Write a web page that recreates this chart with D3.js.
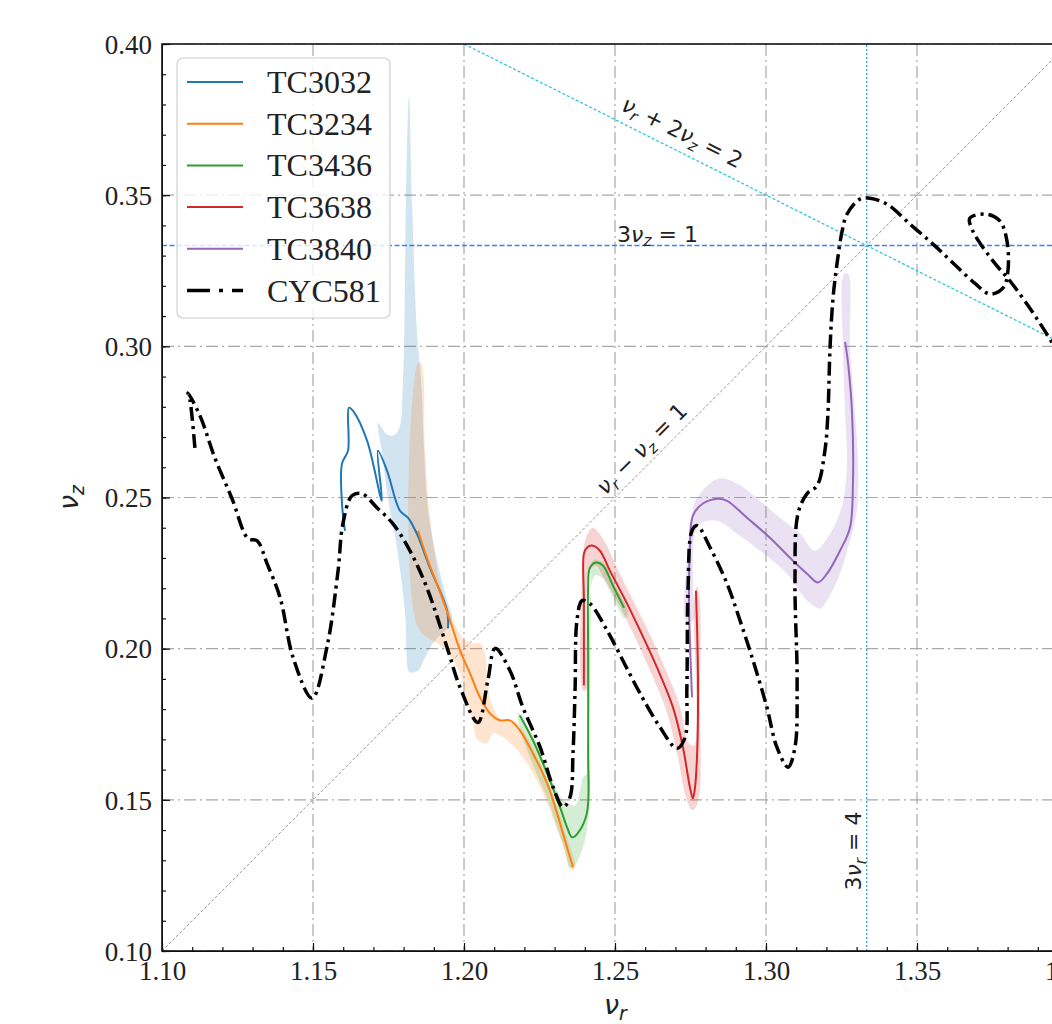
<!DOCTYPE html>
<html lang="en">
<head>
<meta charset="UTF-8">
<title>nu_r vs nu_z</title>
<script src="https://cdn.jsdelivr.net/npm/d3@7"></script>
<style>
    body { margin: 0; background: white; }
    .tick text { font-family: "Liberation Serif", serif; font-size: 27px; fill: #222; }
    .axis path, .axis line { stroke: #111; }
    .math { font-family: "DejaVu Sans", sans-serif; fill: #222; }
</style>
</head>
<body>
<script>
const width = 1052, height = 1024;
const margin = {left: 162, top: 44, right: 1068, bottom: 951};

// ticks
const xTicks = [1.10, 1.15, 1.20, 1.25, 1.30, 1.35, 1.40];
const yTicks = [0.10, 0.15, 0.20, 0.25, 0.30, 0.35, 0.40];
const xMinor = d3.range(110, 141).map(d => d / 100);
const yMinor = d3.range(10, 41).map(d => d / 100);

// series (nu_r, nu_z)
const tc3032 = [[1.1606,0.2390],[1.1596,0.2480],[1.1596,0.2612],[1.1616,0.2655],[1.1619,0.2797],[1.1632,0.2787],
    [1.1679,0.2688],[1.1728,0.2489],[1.1715,0.2655],[1.1745,0.2589],[1.1788,0.2456],[1.1815,0.2433],
    [1.1844,0.2380],[1.1887,0.2268],[1.1944,0.2126],[1.1947,0.2067]];
const tc3234 = [[1.1848,0.2390],[1.1877,0.2301],[1.1921,0.2186],[1.1954,0.2093],[1.1987,0.1994],[1.2020,0.1918],
    [1.2053,0.1839],[1.2086,0.1786],[1.2119,0.1763],[1.2152,0.1763],[1.2185,0.1730],[1.2228,0.1654],
    [1.2275,0.1555],[1.2308,0.1456],[1.2334,0.1367],[1.2361,0.1277]];
const tc3436 = [[1.2185,0.1779],[1.2228,0.1697],[1.2275,0.1588],[1.2318,0.1476],[1.2341,0.1410],[1.2358,0.1376],
    [1.2377,0.1390],[1.2407,0.1456],[1.2411,0.1654],[1.2411,0.1984],[1.2411,0.2202],[1.2417,0.2268],
    [1.2437,0.2285],[1.2460,0.2275],[1.2493,0.2209],[1.2530,0.2135]];
const tc3638 = [[1.2397,0.1878],[1.2397,0.2159],[1.2397,0.2314],[1.2407,0.2334],[1.2424,0.2341],[1.2450,0.2324],
    [1.2483,0.2258],[1.2540,0.2149],[1.2583,0.2060],[1.2639,0.1938],[1.2692,0.1806],[1.2725,0.1674],
    [1.2748,0.1542],[1.2758,0.1505],[1.2765,0.1542],[1.2772,0.1654],[1.2775,0.1872],[1.2772,0.2060],[1.2768,0.2192]];
const tc3840 = [[1.2755,0.1839],[1.2748,0.2027],[1.2745,0.2159],[1.2748,0.2334],[1.2758,0.2440],[1.2791,0.2480],
    [1.2841,0.2496],[1.2871,0.2489],[1.2937,0.2433],[1.3013,0.2367],[1.3089,0.2291],[1.3136,0.2248],
    [1.3172,0.2219],[1.3202,0.2248],[1.3245,0.2324],[1.3278,0.2400],[1.3288,0.2555],[1.3285,0.2777],
    [1.3272,0.2942],[1.3262,0.3015]];
const cyc581 = [[1.1109,0.2664],[1.1093,0.2820],[1.1086,0.2846],[1.1126,0.2770],[1.1175,0.2631],[1.1232,0.2496],
    [1.1285,0.2364],[1.1315,0.2357],[1.1348,0.2281],[1.1391,0.2169],[1.1434,0.1971],[1.1497,0.1836],
    [1.1546,0.2004],[1.1583,0.2258],[1.1599,0.2413],[1.1629,0.2506],[1.1662,0.2513],[1.1712,0.2466],
    [1.1765,0.2413],[1.1821,0.2324],[1.1877,0.2202],[1.1944,0.2004],[1.1987,0.1872],[1.2046,0.1756],
    [1.2079,0.1895],[1.2103,0.2001],[1.2152,0.1928],[1.2195,0.1806],[1.2252,0.1674],[1.2295,0.1542],
    [1.2328,0.1476],[1.2351,0.1509],[1.2361,0.1654],[1.2368,0.1872],[1.2374,0.2093],[1.2391,0.2159],
    [1.2417,0.2149],[1.2474,0.2060],[1.2526,0.1961],[1.2583,0.1852],[1.2649,0.1740],[1.2705,0.1670],
    [1.2732,0.1707],[1.2738,0.1872],[1.2742,0.2202],[1.2755,0.2390],[1.2772,0.2407],[1.2815,0.2334],
    [1.2871,0.2215],[1.2914,0.2093],[1.2957,0.1961],[1.3003,0.1806],[1.3036,0.1674],[1.3073,0.1608],
    [1.3096,0.1674],[1.3103,0.1895],[1.3096,0.2225],[1.3106,0.2447],[1.3136,0.2513],[1.3169,0.2539],
    [1.3195,0.2655],[1.3205,0.2777],[1.3212,0.2995],[1.3222,0.3160],[1.3235,0.3272],[1.3252,0.3381],
    [1.3268,0.3437],[1.3311,0.3487],[1.3344,0.3490],[1.3401,0.3470],[1.3477,0.3404],[1.3553,0.3338],
    [1.3620,0.3275],[1.3690,0.3210],[1.3742,0.3173],[1.3785,0.3193],[1.3801,0.3249],
    [1.3798,0.3348],[1.3775,0.3414],[1.3732,0.3437],[1.3675,0.3424],[1.3685,0.3381],[1.3752,0.3282],
    [1.3808,0.3216],[1.3864,0.3140],[1.3917,0.3061],[1.3974,0.2968]];

// uncertainty bands, as outlines (nu_r, nu_z)
const band3032 = [[1.1715,0.2747],[1.1742,0.2711],[1.1765,0.2704],[1.1785,0.2727],[1.1798,0.2886],[1.1808,0.3480],
    [1.1818,0.3827],[1.1828,0.3480],[1.1844,0.3051],[1.1858,0.2886],[1.1868,0.2655],[1.1881,0.2456],
    [1.1911,0.2291],[1.1944,0.2159],[1.1960,0.2103],[1.1944,0.2067],[1.1904,0.2027],[1.1871,0.1971],
    [1.1848,0.1928],[1.1821,0.1921],[1.1815,0.1928],[1.1805,0.2116],[1.1778,0.2334],[1.1748,0.2499],[1.1728,0.2655]];
const band3234 = [[1.1848,0.2945],[1.1858,0.2945],[1.1871,0.2655],[1.1887,0.2440],[1.1921,0.2215],[1.1960,0.2103],
    [1.2003,0.2027],[1.2030,0.2017],[1.2053,0.2017],[1.2070,0.1984],[1.2079,0.1872],[1.2096,0.1806],
    [1.2126,0.1763],[1.2162,0.1763],[1.2209,0.1707],[1.2285,0.1542],[1.2341,0.1376],[1.2368,0.1277],
    [1.2358,0.1267],[1.2318,0.1376],[1.2252,0.1542],[1.2185,0.1654],[1.2129,0.1707],[1.2096,0.1720],
    [1.2076,0.1687],[1.2046,0.1697],[1.2030,0.1753],[1.2010,0.1829],[1.1987,0.1918],[1.1964,0.1961],
    [1.1921,0.2011],[1.1848,0.2070]];
const band3436 = [[1.2179,0.1789],[1.2235,0.1697],[1.2285,0.1581],[1.2328,0.1499],[1.2368,0.1482],[1.2384,0.1532],
    [1.2394,0.1575],[1.2407,0.1588],[1.2417,0.1829],[1.2421,0.2159],[1.2427,0.2291],[1.2460,0.2285],
    [1.2500,0.2209],[1.2543,0.2120],[1.2533,0.2100],[1.2490,0.2176],[1.2457,0.2235],[1.2434,0.2242],
    [1.2417,0.2159],[1.2417,0.1532],[1.2407,0.1400],[1.2391,0.1334],[1.2368,0.1284],[1.2351,0.1274],
    [1.2334,0.1334],[1.2311,0.1400],[1.2278,0.1499],[1.2235,0.1598],[1.2192,0.1713],[1.2179,0.1763]];
const band3638 = [[1.2394,0.1862],[1.2394,0.2291],[1.2404,0.2367],[1.2427,0.2400],[1.2464,0.2357],[1.2503,0.2275],
    [1.2560,0.2159],[1.2606,0.2067],[1.2659,0.1951],[1.2712,0.1819],[1.2745,0.1687],[1.2762,0.1680],
    [1.2762,0.2159],[1.2772,0.2205],[1.2781,0.2159],[1.2781,0.1829],[1.2781,0.1532],[1.2768,0.1476],
    [1.2755,0.1466],[1.2735,0.1509],[1.2705,0.1657],[1.2672,0.1789],[1.2619,0.1921],[1.2563,0.2044],
    [1.2520,0.2133],[1.2464,0.2232],[1.2437,0.2275],[1.2417,0.2258],[1.2404,0.2159],[1.2404,0.1862]];
const band3840 = [[1.2755,0.2447],[1.2772,0.2499],[1.2841,0.2562],[1.2904,0.2546],[1.2980,0.2489],[1.3046,0.2433],
    [1.3113,0.2380],[1.3162,0.2324],[1.3212,0.2380],[1.3252,0.2473],[1.3268,0.2612],[1.3262,0.2777],
    [1.3255,0.2995],[1.3258,0.3239],[1.3272,0.3239],[1.3278,0.2995],[1.3295,0.2777],[1.3305,0.2612],
    [1.3301,0.2456],[1.3278,0.2357],[1.3245,0.2248],[1.3202,0.2159],[1.3179,0.2133],[1.3136,0.2159],
    [1.3070,0.2248],[1.2980,0.2324],[1.2904,0.2380],[1.2838,0.2423],[1.2781,0.2413],[1.2762,0.2367],
    [1.2758,0.2225],[1.2758,0.2093],[1.2735,0.2093],[1.2738,0.2291]];

const seriesNames = ["TC3032", "TC3234", "TC3436", "TC3638", "TC3840", "CYC581"];
const seriesColors = ["#1f77b4", "#ff7f0e", "#2ca02c", "#d62728", "#9467bd", "#000000"];
const tcLines = [tc3032, tc3234, tc3436, tc3638, tc3840];
const tcBands = [band3032, band3234, band3436, band3638, band3840];

const x = d3.scaleLinear().domain([1.10, 1.40]).range([margin.left, margin.right]);
const y = d3.scaleLinear().domain([0.10, 0.40]).range([margin.bottom, margin.top]);

const svg = d3.select("body").append("svg")
    .attr("width", width).attr("height", height);

svg.append("defs").append("clipPath").attr("id", "clip")
    .append("rect")
    .attr("x", margin.left).attr("y", margin.top)
    .attr("width", margin.right - margin.left).attr("height", margin.bottom - margin.top);

const plot = svg.append("g").attr("clip-path", "url(#clip)");

// grid
plot.selectAll("line.gx").data(xTicks).join("line").attr("class", "gx")
    .attr("x1", d => x(d)).attr("x2", d => x(d))
    .attr("y1", margin.top).attr("y2", margin.bottom);
plot.selectAll("line.gy").data(yTicks).join("line").attr("class", "gy")
    .attr("y1", d => y(d)).attr("y2", d => y(d))
    .attr("x1", margin.left).attr("x2", margin.right);
plot.selectAll("line.gx, line.gy")
    .attr("stroke", "#a8a8a8").attr("stroke-width", 1.2)
    .attr("stroke-dasharray", "12,4,2,4");

// resonance lines
const ref = plot.append("g");
ref.append("line")  // nu_r - nu_z = 1
    .attr("x1", x(1.10)).attr("y1", y(0.10)).attr("x2", x(1.40)).attr("y2", y(0.40))
    .attr("stroke", "#8a8a8a").attr("stroke-width", 0.9).attr("stroke-dasharray", "3,2");
ref.append("line")  // 3 nu_z = 1
    .attr("x1", x(1.10)).attr("y1", y(1 / 3)).attr("x2", x(1.40)).attr("y2", y(1 / 3))
    .attr("stroke", "#3f7cff").attr("stroke-width", 1.5).attr("stroke-dasharray", "5,2.5");
ref.append("line")  // 3 nu_r = 4
    .attr("x1", x(4 / 3)).attr("y1", y(0.10)).attr("x2", x(4 / 3)).attr("y2", y(0.40))
    .attr("stroke", "#4aa2dc").attr("stroke-width", 1.4).attr("stroke-dasharray", "2,2");
ref.append("line")  // nu_r + 2 nu_z = 2
    .attr("x1", x(1.20)).attr("y1", y(0.40)).attr("x2", x(1.40)).attr("y2", y(0.30))
    .attr("stroke", "#2fc6d8").attr("stroke-width", 1.3).attr("stroke-dasharray", "3,2");

// bands and curves
const bandPath = d3.line().x(d => x(d[0])).y(d => y(d[1])).curve(d3.curveCatmullRomClosed.alpha(0.5));
const curvePath = d3.line().x(d => x(d[0])).y(d => y(d[1])).curve(d3.curveCatmullRom.alpha(0.5));

tcBands.forEach((b, i) => {
    plot.append("path").attr("d", bandPath(b))
        .attr("fill", seriesColors[i]).attr("fill-opacity", 0.2).attr("stroke", "none");
});
tcLines.forEach((l, i) => {
    plot.append("path").attr("d", curvePath(l))
        .attr("fill", "none").attr("stroke", seriesColors[i]).attr("stroke-width", 2);
});
plot.append("path").attr("d", curvePath(cyc581))
    .attr("fill", "none").attr("stroke", "#000").attr("stroke-width", 3.5)
    .attr("stroke-dasharray", "14,5,3,5");

// math labels
function mathText(g, parts, fs) {
    const t = g.append("text").attr("class", "math").attr("font-size", fs);
    let shifted = false;
    parts.forEach(([s, kind]) => {
        const ts = t.append("tspan").text(s);
        if (kind === "i") ts.attr("font-style", "italic");
        if (kind === "s") {
            ts.attr("font-style", "italic").attr("font-size", fs * 0.7).attr("dy", fs * 0.22);
            shifted = true;
        } else if (shifted) {
            ts.attr("dy", -fs * 0.22);
            shifted = false;
        }
    });
    return t;
}

const slopeDiag = Math.atan2(y(0.40) - y(0.10), x(1.40) - x(1.10)) * 180 / Math.PI;
const slopeSum = Math.atan2(y(0.30) - y(0.40), x(1.40) - x(1.20)) * 180 / Math.PI;

const l1 = svg.append("g")
    .attr("transform", `translate(${x(1.2487)},${y(0.2487)}) rotate(${slopeDiag})`);
mathText(l1, [["ν", "i"], ["r", "s"], [" − ", "n"], ["ν", "i"], ["z", "s"], [" = 1", "n"]], 22)
    .attr("x", 0).attr("y", -8);

const l2 = svg.append("g")
    .attr("transform", `translate(${x(1.25)},${y(0.375)}) rotate(${slopeSum})`);
mathText(l2, [["ν", "i"], ["r", "s"], [" + 2", "n"], ["ν", "i"], ["z", "s"], [" = 2", "n"]], 22)
    .attr("x", 0).attr("y", -11);

const l3 = svg.append("g").attr("transform", `translate(${x(1.2507)},${y(1 / 3) - 4})`);
mathText(l3, [["3", "n"], ["ν", "i"], ["z", "s"], [" = 1", "n"]], 22);

const l4 = svg.append("g")
    .attr("transform", `translate(${x(4 / 3) - 6},${y(0.12)}) rotate(-90)`);
mathText(l4, [["3", "n"], ["ν", "i"], ["r", "s"], [" = 4", "n"]], 22);

// axes
const gx = svg.append("g").attr("class", "axis").attr("transform", `translate(0,${margin.bottom})`);
gx.call(d3.axisBottom(x).tickValues(xMinor).tickSize(-4).tickSizeOuter(0).tickFormat(""));
gx.append("g").call(d3.axisBottom(x).tickValues(xTicks).tickSize(-8).tickSizeOuter(0).tickPadding(10)
    .tickFormat(d3.format(".2f")));
const gy = svg.append("g").attr("class", "axis").attr("transform", `translate(${margin.left},0)`);
gy.call(d3.axisLeft(y).tickValues(yMinor).tickSize(-4).tickSizeOuter(0).tickFormat(""));
gy.append("g").call(d3.axisLeft(y).tickValues(yTicks).tickSize(-8).tickSizeOuter(0).tickPadding(10)
    .tickFormat(d3.format(".2f")));
svg.selectAll(".axis .tick line").attr("stroke-width", 1.2);
svg.selectAll(".axis path.domain").attr("stroke", "none");
gy.selectAll(".tick text").attr("dy", "0.34em");

// frame
svg.append("rect")
    .attr("x", margin.left).attr("y", margin.top)
    .attr("width", margin.right - margin.left).attr("height", margin.bottom - margin.top)
    .attr("fill", "none").attr("stroke", "#111").attr("stroke-width", 1.6);

// axis labels
const xl = svg.append("g").attr("transform", "translate(604,1014)");
mathText(xl, [["ν", "i"], ["r", "s"]], 27);
const yl = svg.append("g").attr("transform", "translate(78,510) rotate(-90)");
mathText(yl, [["ν", "i"], ["z", "s"]], 27);

// legend
const leg = svg.append("g");
leg.append("rect")
    .attr("x", 177).attr("y", 58).attr("width", 213).attr("height", 260).attr("rx", 6)
    .attr("fill", "white").attr("fill-opacity", 0.8).attr("stroke", "#d0d0d0").attr("stroke-width", 1.2);
seriesNames.forEach((name, i) => {
    const cy = 82 + i * 41.7;
    const ln = leg.append("line")
        .attr("x1", 187).attr("x2", 243).attr("y1", cy).attr("y2", cy)
        .attr("stroke", seriesColors[i]).attr("stroke-width", i === 5 ? 3.5 : 2);
    if (i === 5) ln.attr("stroke-dasharray", "23,9,4,9");
    leg.append("text")
        .attr("x", 267).attr("y", cy + 11)
        .attr("font-family", "Liberation Serif, serif").attr("font-size", 32).attr("fill", "#222")
        .text(name);
});
</script>
</body>
</html>
